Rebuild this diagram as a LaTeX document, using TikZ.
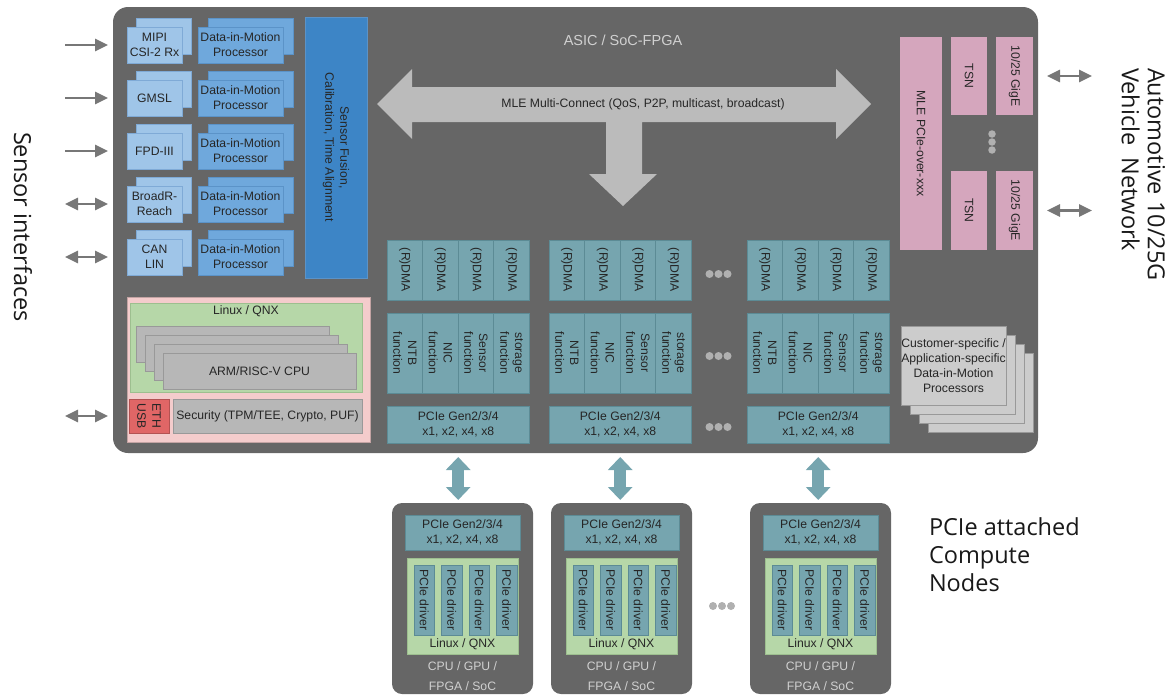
\documentclass[tikz,border=0pt]{standalone}
\usepackage{fontspec}
\setmainfont{Liberation Sans}
\newfontfamily\bigfont{Open Sans}
\usetikzlibrary{arrows.meta}
\definecolor{asicg}{HTML}{666666}
\definecolor{sensb}{HTML}{9FC5E8}
\definecolor{sense}{HTML}{7FAAD6}
\definecolor{dimb}{HTML}{6FA8DC}
\definecolor{dime}{HTML}{5B93C8}
\definecolor{fusb}{HTML}{3D85C6}
\definecolor{tealc}{HTML}{76A5AF}
\definecolor{teale}{HTML}{5C8B95}
\definecolor{pinkr}{HTML}{D5A6BD}
\definecolor{pinkc}{HTML}{F4CCCC}
\definecolor{greenl}{HTML}{B6D7A8}
\definecolor{greene}{HTML}{9DBF8F}
\definecolor{grayb}{HTML}{B7B7B7}
\definecolor{graye}{HTML}{999999}
\definecolor{custg}{HTML}{CCCCCC}
\definecolor{ethr}{HTML}{E06666}
\definecolor{bigarr}{HTML}{BBBBBB}
\definecolor{sidearr}{HTML}{777777}
\definecolor{dotc}{HTML}{B0B0B0}
\definecolor{txt}{HTML}{262626}
\definecolor{lighttxt}{HTML}{D0D0D0}
\newcommand\mybox[7]{\node[#6, minimum width={(#4)-(#2)}, minimum height={(#5)-(#3)}] (#1) at ({((#2)+(#4))/2},{((#3)+(#5))/2}) {#7};}
\newcommand\myrbox[7]{\node[#6, rotate=-90, minimum width={(#5)-(#3)}, minimum height={(#4)-(#2)}] (#1) at ({((#2)+(#4))/2},{((#3)+(#5))/2}) {#7};}
\begin{document}
\begin{tikzpicture}[x=1pt,y=-1pt,
  every node/.style={inner sep=0pt, outer sep=0pt, text=txt, font=\fontsize{12.2}{14.8}\selectfont},
  asicbox/.style={fill=asicg, rounded corners=15pt},
  cnode/.style={fill=asicg, rounded corners=10pt},
  sensbox/.style={fill=sensb, draw=sense, line width=0.6pt, align=center},
  dimbox/.style={fill=dimb, draw=dime, line width=0.6pt, align=center},
  fusbox/.style={fill=fusb, draw=dime, line width=0.6pt, align=center},
  tealbox/.style={fill=tealc, draw=teale, line width=0.8pt, align=center},
  pinkbox/.style={fill=pinkr, align=center},
  cpuarea/.style={fill=pinkc, draw=pinkc!80!black, line width=0.4pt},
  linuxbox/.style={fill=greenl, draw=greene, line width=0.6pt},
  graybox/.style={fill=grayb, draw=graye, line width=0.6pt, align=center},
  custbox/.style={fill=custg, draw=graye, line width=0.6pt, align=center},
  ethbox/.style={fill=ethr, draw=ethr!80!black, line width=0.4pt, align=center},
  dot/.style={circle, fill=dotc, minimum size=8pt},
  lighttext/.style={text=lighttxt, align=center},
  biglabel/.style={text=black!90, align=left, font=\bigfont\fontsize{23.5}{26}\selectfont},
  sidearrow/.style={draw=sidearr, line width=2.6pt, -{Triangle[length=13pt,width=12pt]}},
  sidearrowb/.style={draw=sidearr, line width=2.6pt, {Triangle[length=13pt,width=12pt]}-{Triangle[length=13pt,width=12pt]}},
  tealarrow/.style={draw=tealc, line width=12pt, {Triangle[length=13pt,width=24pt]}-{Triangle[length=13pt,width=24pt]}}
]
\useasboundingbox (0,0) rectangle (1172,696);

% main ASIC
\mybox{asic}{113}{7}{1038}{453}{asicbox}{}
\node[lighttext, font=\fontsize{14.5}{17}\selectfont] (asiclbl) at (623,40) {ASIC / SoC-FPGA};

% sensor interface rows
\foreach \r/\ty/\lbl in {1/27/{MIPI\\CSI-2 Rx},2/80/GMSL,3/133/FPD-III,4/186/{BroadR-\\Reach},5/239/{CAN\\LIN}} {
  \mybox{sb\r}{136}{\ty-9}{191}{\ty+27}{sensbox}{}
  \mybox{s\r}{127}{\ty}{182}{\ty+36}{sensbox}{\lbl}
  \mybox{db\r}{208}{\ty-9}{293}{\ty+27}{dimbox}{}
  \mybox{d\r}{198}{\ty}{283}{\ty+36}{dimbox}{Data-in-Motion\\Processor}
}
\myrbox{fus}{305}{17}{367}{278}{fusbox}{Sensor Fusion,\\Calibration, Time Alignment}

% sensor arrows
\foreach \r in {1,2,3} {
  \coordinate (ain\r) at (65,0);
  \draw[sidearrow, shorten >=5pt] (ain\r |- s\r) -- (s\r -| asic.west);
}
\foreach \r in {4,5} {
  \coordinate (ain\r) at (65,0);
  \draw[sidearrowb, shorten >=5pt] (ain\r |- s\r) -- (s\r -| asic.west);
}

% CPU area
\mybox{cpuarea}{127}{297}{370}{442}{cpuarea}{}
\mybox{linux}{130}{303}{362}{392}{linuxbox}{}
\node (linuxlbl) at (246,311) {Linux / QNX};
\foreach \k in {0,1,2} {
  \mybox{cpu\k}{136+9*\k}{326+9*\k}{329+9*\k}{362+9*\k}{graybox}{}
}
\mybox{cpu3}{163}{353}{356}{389}{graybox}{ARM/RISC-V CPU}
\myrbox{eth}{129}{399}{169}{433}{ethbox}{ETH\\USB}
\mybox{sec}{173}{399}{362}{433}{graybox}{Security (TPM/TEE, Crypto, PUF)}
\coordinate (aeth) at (65,0);
\draw[sidearrowb, shorten >=5pt] (aeth |- eth) -- (eth -| asic.west);

% MLE multi-connect arrow
\fill[bigarr] (377,104) -- (412,69) -- (412,87) -- (836,87) -- (836,69) -- (871,104)
  -- (836,139) -- (836,122) -- (642,122) -- (642,174) -- (657,174) -- (623,206)
  -- (589,174) -- (606,174) -- (606,122) -- (412,122) -- (412,139) -- cycle;
\node (mlelbl) at (643,104) {MLE Multi-Connect (QoS, P2P, multicast, broadcast)};

% PCIe function groups
\foreach \g/\gx in {1/387,2/549,3/747} {
  \foreach \i/\ft in {1/NTB,2/NIC,3/Sensor,4/storage} {
    \myrbox{g\g d\i}{\gx+(\i-1)*35.6}{240}{\gx+\i*35.6}{300}{tealbox}{(R)DMA}
    \myrbox{g\g f\i}{\gx+(\i-1)*35.6}{313}{\gx+\i*35.6}{393}{tealbox}{\ft\\function}
  }
  \mybox{g\g p}{\gx}{406}{\gx+142.4}{443}{tealbox}{PCIe Gen2/3/4\\x1, x2, x4, x8}
}
\foreach \y/\n in {274/a,356/b,427/c} {
  \foreach \dx/\m in {-9/1,0/2,9/3} {
    \node[dot] (dots\n\m) at (718.5+\dx,\y) {};
  }
}

% right side network
\myrbox{mlepcie}{900}{37}{942}{250}{pinkbox}{MLE PCIe-over-xxx}
\myrbox{tsn1}{951}{37}{987}{115}{pinkbox}{TSN}
\myrbox{ge1}{996}{37}{1033}{115}{pinkbox}{10/25 GigE}
\myrbox{tsn2}{951}{171}{987}{250}{pinkbox}{TSN}
\myrbox{ge2}{996}{171}{1033}{250}{pinkbox}{10/25 GigE}
\foreach \y/\m in {134/1,142/2,150/3} {
  \node[dot, minimum size=7.5pt] (vdot\m) at (992,\y) {};
}
\foreach \k in {1,2} {
  \coordinate (ageth\k) at (1092,0);
  \draw[sidearrowb, shorten <=9pt] (ge\k -| asic.east) -- (ageth\k |- ge\k);
}

% customer-specific stack
\foreach \k in {3,2,1} {
  \mybox{cust\k}{901+9*\k}{326+9*\k}{1006+9*\k}{405+9*\k}{custbox}{}
}
\mybox{cust0}{901}{326}{1006}{405}{custbox}{Customer-specific /\\Application-specific\\Data-in-Motion\\Processors}

% compute nodes
\foreach \k/\nx in {1/392,2/551,3/750} {
  \mybox{n\k}{\nx}{503}{\nx+141}{694}{cnode}{}
  \mybox{n\k p}{\nx+13}{515}{\nx+128}{550}{tealbox}{PCIe Gen2/3/4\\x1, x2, x4, x8}
  \mybox{n\k l}{\nx+15}{558}{\nx+126}{654}{linuxbox}{}
  \foreach \j/\ox in {1/22,2/49.5,3/77,4/104.5} {
    \myrbox{n\k drv\j}{\nx+\ox}{565}{\nx+\ox+20.5}{635}{tealbox}{PCIe driver}
  }
  \node (n\k lx) at (\nx+70.5,644) {Linux / QNX};
  \node[lighttext, font=\fontsize{12.2}{20}\selectfont] (n\k cpu) at (\nx+70.5,676) {CPU / GPU /\\FPGA / SoC};
  \draw[tealarrow, shorten <=4pt, shorten >=3pt] (g\k p.south |- asic.south) -- (g\k p.south |- n\k.north);
}
\foreach \dx/\m in {-9/1,0/2,9/3} {
  \node[dot] (bdot\m) at (722+\dx,606) {};
}

% outer labels
\node[biglabel, rotate=-90, anchor=north west] (senslbl) at (32,132) {Sensor interfaces};
\node[biglabel, rotate=-90, anchor=north west] (netlbl) at (1165,68) {Automotive 10/25G\\Vehicle\ \ Network};
\node[biglabel, anchor=north west, font=\bigfont\fontsize{23.5}{28}\selectfont] (pcielbl) at (929,518) {PCIe attached\\Compute\\Nodes};
\end{tikzpicture}
\end{document}
